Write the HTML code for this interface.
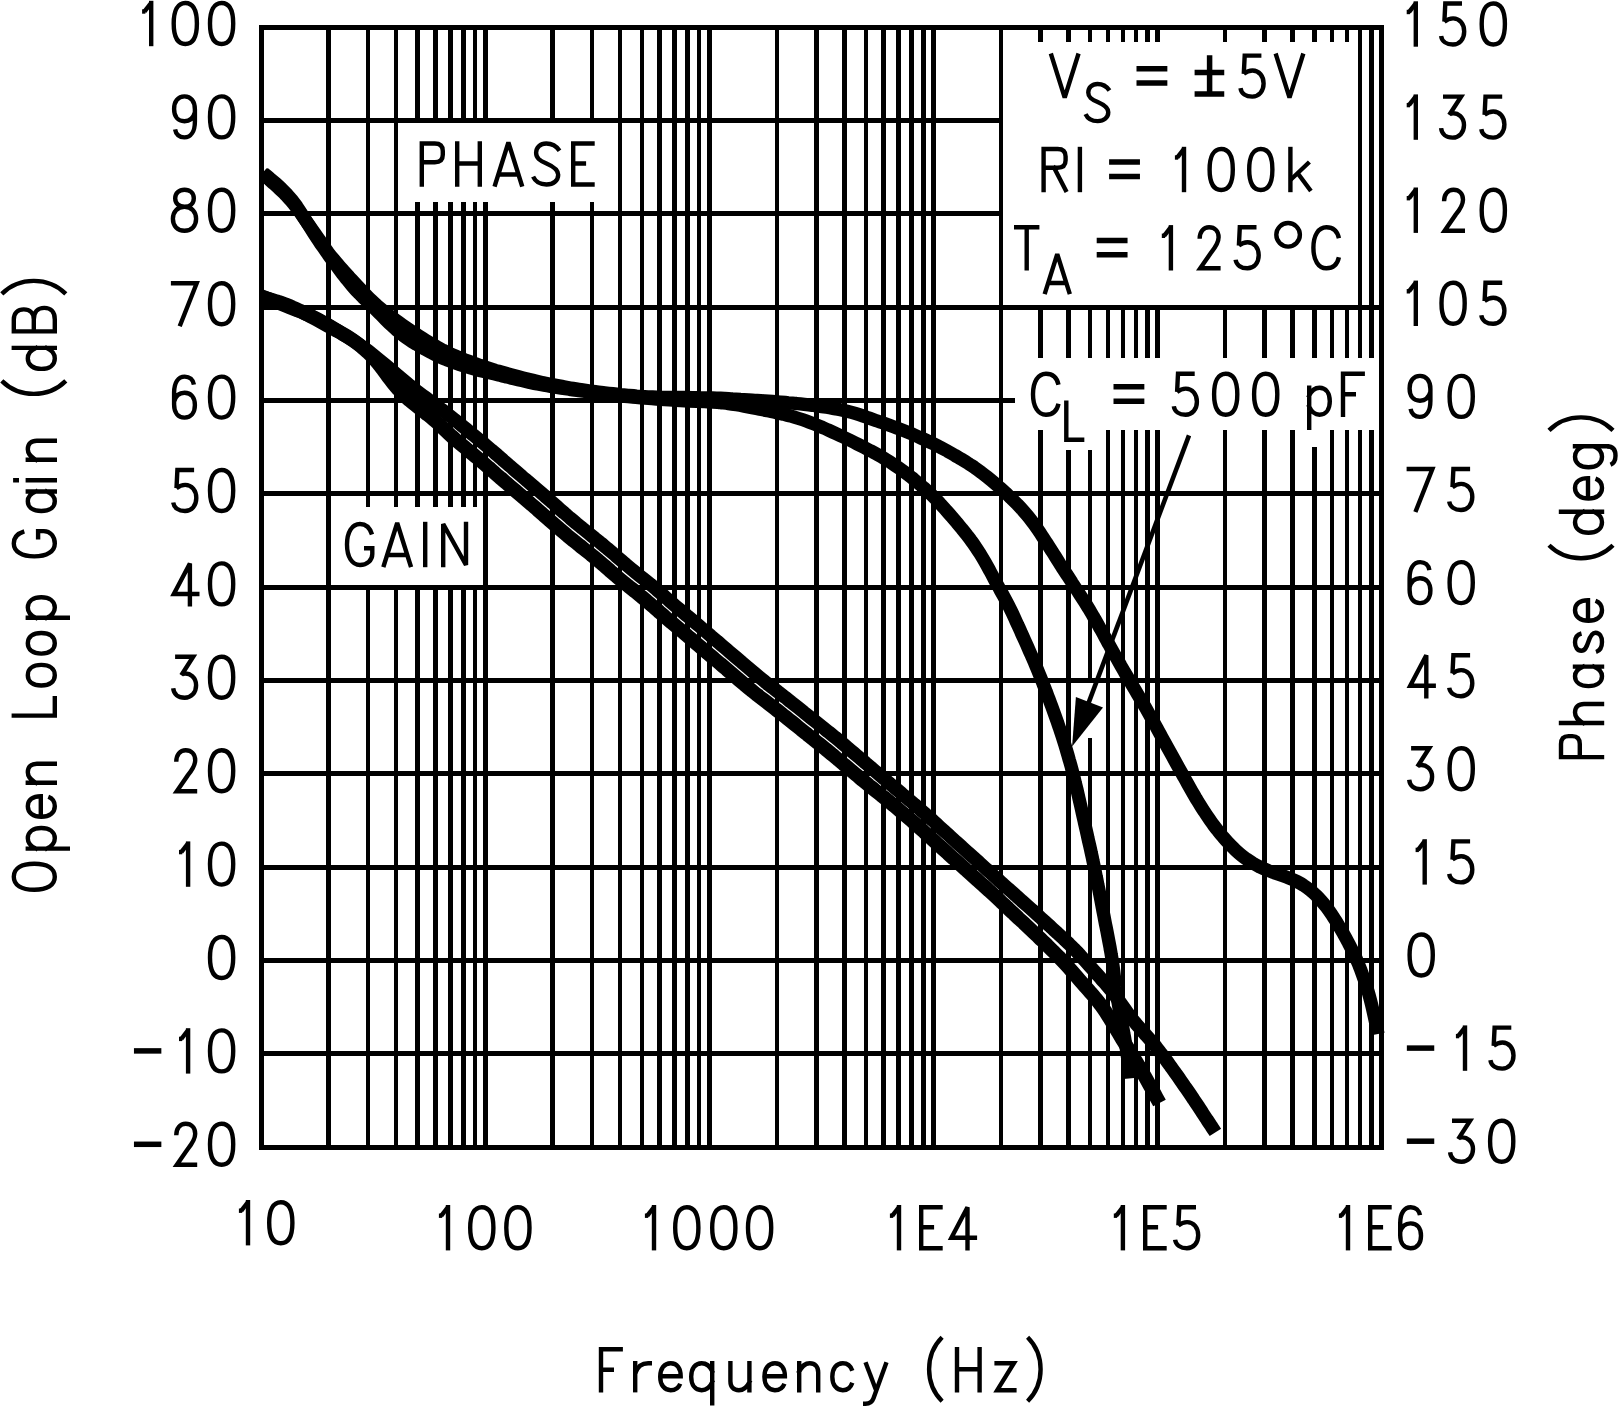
<!DOCTYPE html>
<html><head><meta charset="utf-8"><title>Open Loop Gain and Phase vs Frequency</title>
<style>
html,body{margin:0;padding:0;background:#fff;font-family:"Liberation Sans",sans-serif}
svg{display:block}
.t{fill:none;stroke:#000;stroke-width:4.4;stroke-linejoin:miter;stroke-miterlimit:2.6}
path.s{stroke-linecap:square}
path.b{stroke-linecap:butt}
</style></head><body>
<svg width="1619" height="1407" viewBox="0 0 1619 1407"><defs><g id="g30"><path class="b" d="M0,20.5C0,7.5 4,0 11.6,0C19.2,0 23.2,7.5 23.2,20.5C23.2,33.5 19.2,41 11.6,41C4,41 0,33.5 0,20.5Z"/></g><g id="g31"><path class="b" d="M-2.1,8.5L1.2,8.5"/><path class="b" d="M0.2,8.6L7,-0.2"/><path class="s" d="M7,0L7,41"/></g><g id="g32"><path class="b" d="M1.85,11.5C1.85,4.5 5.7,0 11.3,0C16.9,0 20.8,4 20.8,10C20.8,15.5 18,19.5 13.5,25L2.4,41L22.8,41"/></g><g id="g33"><path class="s" d="M4.1,0L20,0L9.3,16.6"/><path class="b" d="M9.6,17C17,15.3 22.9,21 22.9,28.4C22.9,36 18,41 11.5,41C5,41 0.6,37.5 0,31.5"/></g><g id="g34"><path class="s" d="M17.6,41L17.6,0L1.5,30.6L25,30.6"/></g><g id="g35"><path class="s" d="M18.7,0L4.2,0L3.4,16"/><path class="b" d="M3.2,18.2C6,16 9,14.9 12,14.9C18.6,14.9 23.1,20.5 23.1,28C23.1,35.5 18.6,41 11.8,41C5.5,41 0.8,38 0,32.5"/></g><g id="g36"><path class="b" d="M19.8,8C19,3 15.5,0 10.6,0C4,0 0,6 0,16L0,28C0,36 4,41 10.4,41C17,41 20.8,36 20.8,28.5C20.8,21 17,16.2 10.4,16.2C5,16.2 1.5,19.5 0,25"/></g><g id="g39"><path class="b" d="M1,33C1.8,38 5.3,41 10.2,41C16.8,41 20.8,35 20.8,25L20.8,13C20.8,5 16.8,0 10.4,0C3.8,0 0,5 0,12.5C0,20 3.8,24.8 10.4,24.8C15.8,24.8 19.3,21.5 20.8,16"/></g><g id="g37"><path class="s" d="M0,0L23.6,0L7.4,41"/></g><g id="g38"><path class="b" d="M11.6,17C6,17 2.3,13.5 2.3,8.5C2.3,3.5 6,0 11.6,0C17.2,0 20.9,3.5 20.9,8.5C20.9,13.5 17.2,17 11.6,17C4.5,17 0,22 0,29C0,36 4.5,41 11.6,41C18.7,41 23.2,36 23.2,29C23.2,22 18.7,17 11.6,17Z"/></g><g id="g2d"><path class="s" d="M0.6,20.5L22.5,20.5"/></g><g id="g3d"><path class="s" d="M0.55,13.1L25.9,13.1M0.55,27.5L25.9,27.5"/></g><g id="g2b2d"><path class="s" d="M12.8,2.4L12.8,33M0.55,16.9L24.7,16.9M0.55,38.3L24.7,38.3"/></g><g id="g646567"><path class="b" d="M0,7.5A11.8,11.8 0 1 0 23.6,7.5A11.8,11.8 0 1 0 0,7.5Z"/></g><g id="g28"><path class="b" d="M13,-12C4,-3 0,8 0,20C0,32 4,43 13,52"/></g><g id="g29"><path class="b" d="M0,-12C9,-3 13,8 13,20C13,32 9,43 0,52"/></g><g id="g41"><path class="s" d="M0,41L13.2,-1L26.4,41M4.7,31L21.7,31"/></g><g id="g42"><path class="s" d="M0,0L0,41L12,41C19.5,41 23.5,37 23.5,30.5C23.5,24 19.5,20 12,20L0,20M12,20C18.5,20 22,16 22,10C22,4 18.5,0 12,0L0,0"/></g><g id="g43"><path class="b" d="M25.5,11C24,4 19.5,0 13,0C5,0 0,8 0,20.5C0,33 5,41 13,41C19.5,41 24,37 25.5,30"/></g><g id="g45"><path class="s" d="M19.3,0L0,0L0,41L19.3,41M0,20L10.7,20"/></g><g id="g46"><path class="s" d="M19.7,0L0,0L0,41M0,20.5L10.8,20.5"/></g><g id="g47"><path class="b" d="M25,10.5C23,4 19,0 13,0C5,0 0,8 0,20.5C0,33 5,41 13,41C20,41 25.3,36.5 25.3,30L25.3,24.3L17,24.3"/></g><g id="g48"><path class="s" d="M0,0L0,41M22.6,0L22.6,41M0,20L22.6,20"/></g><g id="g49"><path class="s" d="M0,0L0,41"/></g><g id="g4c"><path class="s" d="M0,0L0,41L17.5,41"/></g><g id="g4e"><path class="s" d="M0,41L0,0L22.8,41L22.8,0"/></g><g id="g4f"><path class="b" d="M0,20.5C0,7.5 4.5,0 13,0C21.5,0 26,7.5 26,20.5C26,33.5 21.5,41 13,41C4.5,41 0,33.5 0,20.5Z"/></g><g id="g50"><path class="s" d="M0,41L0,0L13,0C18.5,0 21,2.8 21,7.5L21,11.3C21,16 18.5,18.8 13,18.8L0,18.8"/></g><g id="g52"><path class="s" d="M0,41L0,0L14,0C19.5,0 22,2.8 22,7.5L22,11.3C22,16 19.5,18.8 14,18.8L0,18.8M10.5,18.8L22,41"/></g><g id="g53"><path class="b" d="M25.8,7.2C22.5,2.3 18,0 12.6,0C6.6,0 2.4,3.8 2.4,9.3C2.4,14.5 5.8,17 12.8,20C19.8,23 24.5,26 24.5,31.3C24.5,37 19.8,41 12.8,41C6,41 1.8,38.5 -0.6,33.2"/></g><g id="g54"><path class="s" d="M0,0L21,0M10.5,0L10.5,41"/></g><g id="g56"><path class="s" d="M0,0L13.2,42L26.4,0"/></g><g id="g61"><path class="s" d="M19.5,14L19.5,41M19.5,22C17.4,17 14.4,14 9.8,14C3.6,14 0,19.5 0,27.5C0,35.5 3.6,41 9.8,41C14.4,41 17.4,38 19.5,33"/></g><g id="g64"><path class="s" d="M21,0L21,41M21,22C18.8,17 15.5,14 10.5,14C3.9,14 0,19.5 0,27.5C0,35.5 3.9,41 10.5,41C15.5,41 18.8,38 21.0,33"/></g><g id="g67"><path class="s" d="M21,14L21,46"/><path class="b" d="M21,22C18.8,17 15.5,14 10.5,14C3.9,14 0,19.5 0,27.5C0,35.5 3.9,41 10.5,41C15.5,41 18.8,38 21.0,33"/><path class="b" d="M21,46C21,52 17.5,54.5 11.5,54.5C7,54.5 4,53 2.5,49.5"/></g><g id="g71"><path class="s" d="M21,14L21,54M21,22C18.8,17 15.5,14 10.5,14C3.9,14 0,19.5 0,27.5C0,35.5 3.9,41 10.5,41C15.5,41 18.8,38 21.0,33"/></g><g id="g70"><path class="s" d="M0,14L0,54M0,22C2.2,17 5.4,14 10.3,14C16.8,14 20.6,19.5 20.6,27.5C20.6,35.5 16.8,41 10.3,41C5.4,41 2.2,38 0,33"/></g><g id="g63"><path class="b" d="M20,21.5C18.5,17 15,14 10.5,14C4,14 0,19.5 0,27.5C0,35.5 4,41 10.5,41C15,41 18.5,38 20,33.5"/></g><g id="g65"><path class="b" d="M0,27L20.5,27C20.5,19 17,14 10.5,14C4,14 0,19.5 0,27.5C0,35.5 4,41 10.5,41C15,41 18.5,38.5 20,34.5"/></g><g id="g68"><path class="s" d="M0,0L0,41M0,22C2.5,17 6,14 10.5,14C16,14 19,17.5 19,23L19,41"/></g><g id="g6e"><path class="s" d="M0,14L0,41M0,22C2.5,17 6,14 10.5,14C16,14 19,17.5 19,23L19,41"/></g><g id="g69"><path class="s" d="M0,14L0,41M0,1.5L0,3"/></g><g id="g6b"><path class="s" d="M0,0L0,41"/><path class="b" d="M19,13L0,31M7.5,24.5L20.5,42"/></g><g id="g6f"><path class="b" d="M0,27.5C0,19 4,14 10.3,14C16.6,14 20.6,19 20.6,27.5C20.6,36 16.6,41 10.3,41C4,41 0,36 0,27.5Z"/></g><g id="g72"><path class="s" d="M0,14L0,41"/><path class="b" d="M0,24C2,18 6,14 13,14L16.8,14"/></g><g id="g73"><path class="b" d="M18.5,20.5C17.5,16.5 14.5,14 9.8,14C4.8,14 1.3,16.5 1.3,20.3C1.3,24 4.5,25.5 10,27.3C15.5,29 19.3,30.7 19.3,34.5C19.3,38.5 15.5,41 10,41C4.8,41 1.3,39 0,35"/></g><g id="g75"><path class="s" d="M0,14L0,32C0,37.5 3,41 8.5,41C13,41 16.5,38 19,33M19,14L19,41"/></g><g id="g79"><path class="b" d="M0,13L10.6,41"/><path class="b" d="M21,13L8,49C6.8,52.5 4.5,54.5 0,54.5L-2.5,54.5"/></g><g id="g7a"><path class="s" d="M1,14L18.3,14L1.6,41L18.8,41"/></g></defs><g fill="#000" shape-rendering="crispEdges">
<rect x="326.00" y="27.30" width="5.00" height="1119.96"/>
<rect x="366.00" y="27.30" width="4.00" height="1119.96"/>
<rect x="394.00" y="27.30" width="4.00" height="1119.96"/>
<rect x="415.00" y="27.30" width="5.00" height="1119.96"/>
<rect x="433.00" y="27.30" width="5.00" height="1119.96"/>
<rect x="448.00" y="27.30" width="5.00" height="1119.96"/>
<rect x="461.00" y="27.30" width="5.00" height="1119.96"/>
<rect x="473.00" y="27.30" width="4.00" height="1119.96"/>
<rect x="483.00" y="27.30" width="5.00" height="1119.96"/>
<rect x="550.00" y="27.30" width="5.00" height="1119.96"/>
<rect x="590.00" y="27.30" width="4.00" height="1119.96"/>
<rect x="618.00" y="27.30" width="4.00" height="1119.96"/>
<rect x="640.00" y="27.30" width="4.00" height="1119.96"/>
<rect x="657.00" y="27.30" width="5.00" height="1119.96"/>
<rect x="672.00" y="27.30" width="5.00" height="1119.96"/>
<rect x="685.00" y="27.30" width="5.00" height="1119.96"/>
<rect x="697.00" y="27.30" width="4.00" height="1119.96"/>
<rect x="707.00" y="27.30" width="5.00" height="1119.96"/>
<rect x="775.00" y="27.30" width="4.00" height="1119.96"/>
<rect x="814.00" y="27.30" width="5.00" height="1119.96"/>
<rect x="842.00" y="27.30" width="5.00" height="1119.96"/>
<rect x="864.00" y="27.30" width="4.00" height="1119.96"/>
<rect x="881.00" y="27.30" width="5.00" height="1119.96"/>
<rect x="896.00" y="27.30" width="5.00" height="1119.96"/>
<rect x="909.00" y="27.30" width="5.00" height="1119.96"/>
<rect x="921.00" y="27.30" width="5.00" height="1119.96"/>
<rect x="931.00" y="27.30" width="5.00" height="1119.96"/>
<rect x="999.00" y="27.30" width="4.00" height="1119.96"/>
<rect x="1038.00" y="27.30" width="5.00" height="1119.96"/>
<rect x="1066.00" y="27.30" width="5.00" height="1119.96"/>
<rect x="1088.00" y="27.30" width="4.00" height="1119.96"/>
<rect x="1106.00" y="27.30" width="4.00" height="1119.96"/>
<rect x="1121.00" y="27.30" width="4.00" height="1119.96"/>
<rect x="1134.00" y="27.30" width="4.00" height="1119.96"/>
<rect x="1145.00" y="27.30" width="5.00" height="1119.96"/>
<rect x="1155.00" y="27.30" width="5.00" height="1119.96"/>
<rect x="1223.00" y="27.30" width="4.00" height="1119.96"/>
<rect x="1262.00" y="27.30" width="5.00" height="1119.96"/>
<rect x="1290.00" y="27.30" width="5.00" height="1119.96"/>
<rect x="1312.00" y="27.30" width="5.00" height="1119.96"/>
<rect x="1330.00" y="27.30" width="4.00" height="1119.96"/>
<rect x="1345.00" y="27.30" width="4.00" height="1119.96"/>
<rect x="1358.00" y="27.30" width="4.00" height="1119.96"/>
<rect x="1369.00" y="27.30" width="5.00" height="1119.96"/>
<rect x="261.10" y="118.00" width="1120.60" height="5.00"/>
<rect x="261.10" y="211.00" width="1120.60" height="5.00"/>
<rect x="261.10" y="305.00" width="1120.60" height="5.00"/>
<rect x="261.10" y="398.00" width="1120.60" height="5.00"/>
<rect x="261.10" y="491.00" width="1120.60" height="5.00"/>
<rect x="261.10" y="585.00" width="1120.60" height="5.00"/>
<rect x="261.10" y="678.00" width="1120.60" height="5.00"/>
<rect x="261.10" y="771.00" width="1120.60" height="5.00"/>
<rect x="261.10" y="865.00" width="1120.60" height="5.00"/>
<rect x="261.10" y="958.00" width="1120.60" height="5.00"/>
<rect x="261.10" y="1051.00" width="1120.60" height="5.00"/>
</g>
<g fill="#fff" shape-rendering="crispEdges">
<rect x="398.00" y="123.00" width="220.00" height="79.00"/>
<rect x="331.00" y="507.00" width="152.00" height="78.00"/>
<rect x="1003.00" y="42.00" width="378.70" height="263.00"/>
<rect x="1015.00" y="358.00" width="366.70" height="72.00"/>
<rect x="1045.00" y="420.00" width="60.00" height="30.00"/>
<rect x="1312.00" y="420.00" width="5.00" height="27.00"/>
<rect x="1088.00" y="683.00" width="4.00" height="55.00"/>
</g>
<g fill="#000" shape-rendering="crispEdges">
<rect x="1358.00" y="27.30" width="4.00" height="279.99"/><rect x="1369.00" y="27.30" width="5.00" height="279.99"/>
<rect x="259.00" y="25.00" width="1125.00" height="5.00"/><rect x="259.00" y="1145.00" width="1125.00" height="5.00"/><rect x="259.00" y="25.00" width="5.00" height="1125.00"/><rect x="1379.00" y="25.00" width="5.00" height="1125.00"/>
</g>
<g class="t">
<use href="#g30" x="210.00" y="3.00"/><use href="#g30" x="173.70" y="3.00"/><use href="#g31" x="144.20" y="3.00"/>
<use href="#g30" x="210.00" y="96.40"/><use href="#g39" x="174.10" y="96.40"/>
<use href="#g30" x="210.00" y="189.80"/><use href="#g38" x="172.90" y="189.80"/>
<use href="#g30" x="210.00" y="283.20"/><use href="#g37" x="173.10" y="283.20"/>
<use href="#g30" x="210.00" y="376.60"/><use href="#g36" x="174.10" y="376.60"/>
<use href="#g30" x="210.00" y="470.00"/><use href="#g35" x="173.20" y="470.00"/>
<use href="#g30" x="210.00" y="563.40"/><use href="#g34" x="172.30" y="563.40"/>
<use href="#g30" x="210.00" y="656.80"/><use href="#g33" x="173.20" y="656.80"/>
<use href="#g30" x="210.00" y="750.20"/><use href="#g32" x="174.40" y="750.20"/>
<use href="#g30" x="210.00" y="843.60"/><use href="#g31" x="181.10" y="843.60"/>
<use href="#g30" x="210.00" y="937.00"/>
<use href="#g30" x="210.00" y="1030.40"/><use href="#g31" x="181.10" y="1030.40"/><use href="#g2d" x="136.10" y="1030.40" style="stroke-width:5.5"/>
<use href="#g30" x="210.00" y="1123.80"/><use href="#g32" x="174.40" y="1123.80"/><use href="#g2d" x="136.10" y="1123.80" style="stroke-width:5.5"/>
<use href="#g31" x="1408.80" y="3.50"/><use href="#g35" x="1441.10" y="3.50"/><use href="#g30" x="1481.70" y="3.50"/>
<use href="#g31" x="1408.80" y="96.60"/><use href="#g33" x="1441.10" y="96.60"/><use href="#g35" x="1481.30" y="96.60"/>
<use href="#g31" x="1408.80" y="189.70"/><use href="#g32" x="1442.20" y="189.70"/><use href="#g30" x="1481.70" y="189.70"/>
<use href="#g31" x="1408.80" y="282.80"/><use href="#g30" x="1441.50" y="282.80"/><use href="#g35" x="1481.30" y="282.80"/>
<use href="#g39" x="1409.60" y="375.90"/><use href="#g30" x="1449.60" y="375.90"/>
<use href="#g37" x="1408.80" y="469.00"/><use href="#g35" x="1449.20" y="469.00"/>
<use href="#g36" x="1409.60" y="562.10"/><use href="#g30" x="1449.60" y="562.10"/>
<use href="#g34" x="1408.70" y="655.20"/><use href="#g35" x="1449.20" y="655.20"/>
<use href="#g33" x="1409.20" y="748.30"/><use href="#g30" x="1449.60" y="748.30"/>
<use href="#g31" x="1417.70" y="841.40"/><use href="#g35" x="1449.20" y="841.40"/>
<use href="#g30" x="1409.60" y="934.50"/>
<use href="#g2d" x="1409.00" y="1027.60" style="stroke-width:5.5"/><use href="#g31" x="1458.00" y="1027.60"/><use href="#g35" x="1490.40" y="1027.60"/>
<use href="#g2d" x="1409.00" y="1120.70" style="stroke-width:5.5"/><use href="#g33" x="1450.10" y="1120.70"/><use href="#g30" x="1490.10" y="1120.70"/>
<use href="#g31" x="241.00" y="1202.20"/><use href="#g30" x="269.20" y="1202.20"/>
<use href="#g31" x="441.00" y="1207.20"/><use href="#g30" x="470.20" y="1207.20"/><use href="#g30" x="506.30" y="1207.20"/>
<use href="#g31" x="647.00" y="1207.20"/><use href="#g30" x="675.20" y="1207.20"/><use href="#g30" x="712.20" y="1207.20"/><use href="#g30" x="748.00" y="1207.20"/>
<use href="#g31" x="892.00" y="1207.20"/><use href="#g45" x="921.20" y="1207.20"/><use href="#g34" x="949.90" y="1207.20"/>
<use href="#g31" x="1115.90" y="1207.20"/><use href="#g45" x="1145.20" y="1207.20"/><use href="#g35" x="1175.10" y="1207.20"/>
<use href="#g31" x="1341.00" y="1207.20"/><use href="#g45" x="1370.20" y="1207.20"/><use href="#g36" x="1400.20" y="1207.20"/>
<use href="#g46" x="601.00" y="1349.20"/><use href="#g72" x="635.20" y="1349.20"/><use href="#g65" x="660.20" y="1349.20"/><use href="#g71" x="691.20" y="1349.20"/><use href="#g75" x="730.40" y="1349.20"/><use href="#g65" x="764.40" y="1349.20"/><use href="#g6e" x="799.20" y="1349.20"/><use href="#g63" x="832.30" y="1349.20"/><use href="#g79" x="865.50" y="1349.20"/><use href="#g28" x="929.10" y="1349.20"/><use href="#g48" x="957.00" y="1349.20"/><use href="#g7a" x="995.60" y="1349.20"/><use href="#g29" x="1027.60" y="1349.20"/>
<use href="#g50" x="421.80" y="143.50"/><use href="#g48" x="457.20" y="143.50"/><use href="#g41" x="495.20" y="143.50"/><use href="#g53" x="533.70" y="143.50"/><use href="#g45" x="573.20" y="143.50"/>
<use href="#g47" x="347.00" y="524.00"/><use href="#g41" x="384.00" y="524.00"/><use href="#g49" x="425.20" y="524.00"/><use href="#g4e" x="443.20" y="524.00"/>
<use href="#g56" x="1051.50" y="55.60"/><use href="#g3d" x="1138.70" y="55.60" style="stroke-width:5.5"/><use href="#g2b2d" x="1196.80" y="55.60" style="stroke-width:5.5"/><use href="#g35" x="1240.50" y="55.60"/><use href="#g56" x="1276.30" y="55.60"/>
<use href="#g53" transform="translate(1086.10 84.00) scale(0.9050)" style="stroke-width:4.862"/>
<use href="#g52" x="1043.60" y="149.00"/><use href="#g49" x="1079.90" y="149.00"/><use href="#g3d" x="1111.30" y="149.00" style="stroke-width:5.5"/><use href="#g31" x="1177.00" y="149.00"/><use href="#g30" x="1209.60" y="149.00"/><use href="#g30" x="1249.20" y="149.00"/><use href="#g6b" x="1290.40" y="149.00"/>
<use href="#g54" x="1016.20" y="227.30"/><use href="#g3d" x="1098.90" y="227.30" style="stroke-width:5.5"/><use href="#g31" x="1163.90" y="227.30"/><use href="#g32" x="1197.80" y="227.30"/><use href="#g35" x="1235.60" y="227.30"/><use href="#g646567" x="1276.30" y="227.30"/><use href="#g43" x="1313.40" y="227.30"/>
<use href="#g41" transform="translate(1045.30 255.00) scale(0.9050)" style="stroke-width:4.862"/>
<use href="#g43" x="1033.00" y="373.70"/><use href="#g3d" x="1115.70" y="373.70" style="stroke-width:5.5"/><use href="#g35" x="1173.80" y="373.70"/><use href="#g30" x="1214.10" y="373.70"/><use href="#g30" x="1254.10" y="373.70"/><use href="#g70" x="1309.20" y="373.70"/><use href="#g46" x="1343.00" y="373.70"/>
<use href="#g4c" transform="translate(1066.30 402.60) scale(0.9050)" style="stroke-width:4.862"/>
</g>
<g class="t" transform="translate(57.00 891.90) rotate(-90)"><use href="#g4f" x="2.20" y="-43.20"/><use href="#g70" x="43.30" y="-43.20"/><use href="#g65" x="75.10" y="-43.20"/><use href="#g6e" x="109.20" y="-43.20"/><use href="#g4c" x="176.30" y="-43.20"/><use href="#g6f" x="206.40" y="-43.20"/><use href="#g6f" x="238.30" y="-43.20"/><use href="#g70" x="274.10" y="-43.20"/><use href="#g47" x="335.50" y="-43.20"/><use href="#g61" x="380.90" y="-43.20"/><use href="#g69" x="411.60" y="-43.20"/><use href="#g6e" x="432.10" y="-43.20"/><use href="#g28" x="498.00" y="-43.20"/><use href="#g64" x="523.00" y="-43.20"/><use href="#g42" x="560.50" y="-43.20"/><use href="#g29" x="598.00" y="-43.20"/></g>
<g class="t" transform="translate(1604.20 759.30) rotate(-90)"><use href="#g50" x="2.20" y="-43.20"/><use href="#g68" x="36.30" y="-43.20"/><use href="#g61" x="73.20" y="-43.20"/><use href="#g73" x="107.30" y="-43.20"/><use href="#g65" x="138.50" y="-43.20"/><use href="#g28" x="201.00" y="-43.20"/><use href="#g64" x="226.60" y="-43.20"/><use href="#g65" x="260.70" y="-43.20"/><use href="#g67" x="292.00" y="-43.20"/><use href="#g29" x="328.90" y="-43.20"/></g>
<clipPath id="cp"><rect x="262" y="0" width="1130" height="1407"/></clipPath>
<g fill="none" stroke="#000" stroke-linejoin="round" clip-path="url(#cp)">
<path stroke-width="13.3" d="M262.1,173.3C263.1,174.2 266.1,176.8 268.1,178.6C270.1,180.4 272.1,182.1 274.0,183.9C276.0,185.7 278.0,187.5 279.9,189.3C281.8,191.2 283.8,193.0 285.6,194.9C287.4,196.9 289.3,198.8 291.0,200.8C292.7,202.8 294.4,204.9 296.0,207.0C297.7,209.1 299.2,211.3 300.8,213.4C302.3,215.6 303.8,217.8 305.4,220.0C306.9,222.1 308.4,224.3 310.0,226.5C311.5,228.7 313.0,230.9 314.6,233.0C316.1,235.2 317.6,237.4 319.2,239.6C320.7,241.8 322.2,244.0 323.7,246.2C325.2,248.3 326.7,250.5 328.3,252.7C329.9,254.8 331.6,256.9 333.3,258.9C334.9,261.0 336.7,263.0 338.5,265.0C340.2,267.0 342.0,269.0 343.8,271.0C345.6,272.9 347.4,274.9 349.1,276.9C350.9,278.9 352.7,280.8 354.5,282.8C356.3,284.8 358.1,286.7 360.0,288.7C361.8,290.6 363.6,292.5 365.5,294.4C367.4,296.3 369.2,298.2 371.2,300.1C373.1,301.9 375.0,303.7 377.0,305.5C379.0,307.2 381.1,308.9 383.2,310.6C385.2,312.3 387.3,313.9 389.4,315.5C391.6,317.2 393.7,318.7 395.9,320.3C398.0,321.9 400.2,323.4 402.4,324.9C404.6,326.4 406.8,327.9 409.0,329.4C411.2,330.9 413.5,332.4 415.7,333.8C417.9,335.3 420.2,336.7 422.4,338.2C424.7,339.6 426.9,341.0 429.2,342.4C431.5,343.8 433.8,345.1 436.1,346.4C438.4,347.8 440.7,349.0 443.1,350.3C445.5,351.5 447.9,352.6 450.3,353.8C452.7,354.9 455.2,355.9 457.6,356.9C460.1,358.0 462.6,358.9 465.0,359.9C467.5,360.8 470.0,361.8 472.5,362.7C475.0,363.6 477.6,364.5 480.1,365.4C482.6,366.2 485.1,367.1 487.6,367.9C490.2,368.7 492.7,369.5 495.3,370.3C497.8,371.0 500.4,371.8 503.0,372.5C505.5,373.2 508.1,373.9 510.7,374.6C513.3,375.3 515.8,376.0 518.4,376.7C521.0,377.4 523.6,378.1 526.1,378.7C528.7,379.4 531.3,380.0 533.9,380.6C536.5,381.2 539.1,381.8 541.7,382.4C544.3,383.0 546.9,383.5 549.5,384.1C552.1,384.6 554.8,385.1 557.4,385.6C560.0,386.1 562.6,386.6 565.2,387.0C567.9,387.5 570.5,388.0 573.1,388.4C575.8,388.8 578.4,389.3 581.0,389.6C583.7,390.0 586.3,390.4 588.9,390.8C591.6,391.1 594.2,391.5 596.9,391.8C599.5,392.1 602.2,392.5 604.8,392.8C607.5,393.1 610.1,393.4 612.8,393.7C615.4,394.0 618.1,394.3 620.7,394.6C623.4,394.8 626.0,395.1 628.7,395.4C631.3,395.6 634.0,395.8 636.6,396.1C639.3,396.3 642.0,396.5 644.6,396.6C647.3,396.8 649.9,396.9 652.6,397.0C655.3,397.1 657.9,397.2 660.6,397.3C663.3,397.4 665.9,397.4 668.6,397.4C671.3,397.5 673.9,397.5 676.6,397.5C679.3,397.5 681.9,397.5 684.6,397.5C687.3,397.6 689.9,397.6 692.6,397.6C695.3,397.6 697.9,397.6 700.6,397.7C703.3,397.7 705.9,397.7 708.6,397.8C711.3,397.9 713.9,398.0 716.6,398.1C719.3,398.2 721.9,398.3 724.6,398.4C727.2,398.6 729.9,398.7 732.6,398.9C735.2,399.0 737.9,399.2 740.6,399.4C743.2,399.5 745.9,399.7 748.5,399.9C751.2,400.1 753.9,400.2 756.5,400.4C759.2,400.6 761.8,400.8 764.5,400.9C767.2,401.1 769.8,401.3 772.5,401.5C775.1,401.7 777.8,401.9 780.5,402.1C783.1,402.3 785.8,402.5 788.4,402.8C791.1,403.0 793.7,403.3 796.4,403.5C799.0,403.8 801.7,404.1 804.3,404.4C807.0,404.7 809.6,405.0 812.3,405.4C814.9,405.7 817.6,406.0 820.2,406.4C822.9,406.8 825.5,407.1 828.1,407.5C830.8,408.0 833.4,408.4 836.0,408.9C838.6,409.3 841.2,409.9 843.8,410.5C846.4,411.0 849.0,411.7 851.6,412.4C854.1,413.1 856.7,413.9 859.2,414.7C861.7,415.5 864.3,416.4 866.8,417.3C869.3,418.1 871.8,419.0 874.3,419.9C876.9,420.8 879.4,421.6 881.9,422.5C884.4,423.4 886.9,424.3 889.4,425.2C891.9,426.1 894.4,427.0 896.9,428.0C899.4,428.9 901.9,429.9 904.4,430.9C906.9,431.9 909.3,432.9 911.8,433.9C914.2,435.0 916.7,436.0 919.1,437.1C921.6,438.2 924.0,439.3 926.4,440.4C928.8,441.5 931.2,442.7 933.6,443.9C936.0,445.0 938.4,446.2 940.7,447.5C943.1,448.7 945.4,450.0 947.8,451.3C950.1,452.6 952.4,453.9 954.7,455.2C957.0,456.6 959.3,457.9 961.6,459.3C963.9,460.7 966.2,462.1 968.4,463.5C970.6,465.0 972.9,466.4 975.1,467.9C977.3,469.4 979.4,471.0 981.5,472.6C983.7,474.2 985.8,475.9 987.8,477.5C989.9,479.2 992.0,480.9 994.0,482.6C996.0,484.3 998.0,486.1 1000.0,487.8C1002.0,489.6 1004.0,491.4 1006.0,493.2C1007.9,495.0 1009.8,496.9 1011.7,498.7C1013.6,500.6 1015.5,502.5 1017.4,504.4C1019.2,506.3 1021.1,508.3 1022.8,510.2C1024.6,512.2 1026.3,514.2 1028.0,516.3C1029.7,518.4 1031.3,520.5 1032.9,522.6C1034.5,524.8 1036.0,526.9 1037.5,529.1C1039.0,531.3 1040.5,533.5 1042.0,535.8C1043.5,538.0 1044.9,540.2 1046.4,542.4C1047.8,544.7 1049.3,546.9 1050.7,549.2C1052.1,551.4 1053.5,553.7 1055.0,556.0C1056.4,558.2 1057.8,560.5 1059.2,562.7C1060.6,565.0 1062.1,567.2 1063.5,569.5C1064.9,571.7 1066.4,573.9 1067.9,576.2C1069.3,578.4 1070.8,580.6 1072.2,582.9C1073.7,585.1 1075.2,587.3 1076.6,589.6C1078.1,591.8 1079.5,594.0 1081.0,596.3C1082.4,598.5 1083.9,600.8 1085.3,603.0C1086.7,605.3 1088.1,607.6 1089.5,609.8C1090.8,612.1 1092.2,614.4 1093.5,616.7C1094.9,619.0 1096.2,621.3 1097.5,623.7C1098.8,626.0 1100.1,628.3 1101.4,630.6C1102.7,633.0 1104.0,635.3 1105.3,637.7C1106.5,640.0 1107.8,642.3 1109.1,644.7C1110.4,647.0 1111.7,649.4 1113.0,651.7C1114.3,654.0 1115.6,656.3 1116.9,658.6C1118.2,661.0 1119.5,663.3 1120.8,665.6C1122.2,667.9 1123.5,670.2 1124.8,672.5C1126.2,674.8 1127.5,677.1 1128.9,679.4C1130.2,681.7 1131.6,684.0 1132.9,686.3C1134.3,688.6 1135.7,690.9 1137.0,693.2C1138.4,695.5 1139.8,697.8 1141.1,700.1C1142.5,702.4 1143.8,704.7 1145.2,707.0C1146.5,709.3 1147.8,711.6 1149.1,713.9C1150.4,716.3 1151.7,718.6 1153.0,720.9C1154.3,723.3 1155.6,725.6 1156.8,727.9C1158.1,730.3 1159.4,732.6 1160.7,735.0C1161.9,737.3 1163.2,739.6 1164.5,742.0C1165.8,744.3 1167.1,746.7 1168.4,749.0C1169.7,751.3 1171.0,753.7 1172.3,756.0C1173.6,758.3 1174.8,760.6 1176.1,763.0C1177.4,765.3 1178.7,767.6 1180.0,770.0C1181.3,772.3 1182.6,774.6 1183.9,777.0C1185.2,779.3 1186.5,781.6 1187.8,784.0C1189.1,786.3 1190.4,788.6 1191.7,790.9C1193.0,793.2 1194.4,795.6 1195.7,797.9C1197.1,800.1 1198.4,802.4 1199.9,804.7C1201.3,807.0 1202.7,809.2 1204.2,811.4C1205.6,813.7 1207.1,815.9 1208.6,818.1C1210.1,820.3 1211.7,822.4 1213.2,824.6C1214.8,826.7 1216.4,828.8 1218.1,830.9C1219.7,833.0 1221.4,835.1 1223.2,837.1C1224.9,839.1 1226.7,841.1 1228.5,843.0C1230.3,845.0 1232.2,846.9 1234.1,848.7C1236.0,850.6 1238.0,852.4 1240.0,854.1C1242.0,855.8 1244.1,857.4 1246.3,858.9C1248.4,860.5 1250.6,861.9 1252.9,863.3C1255.2,864.6 1257.5,865.8 1259.9,867.0C1262.3,868.1 1264.8,869.2 1267.2,870.2C1269.7,871.2 1272.2,872.0 1274.7,872.9C1277.2,873.8 1279.8,874.6 1282.3,875.5C1284.8,876.4 1287.3,877.3 1289.7,878.3C1292.2,879.3 1294.6,880.3 1296.9,881.5C1299.3,882.7 1301.6,884.0 1303.8,885.5C1306.0,886.9 1308.2,888.5 1310.2,890.1C1312.3,891.8 1314.2,893.5 1316.1,895.4C1318.0,897.2 1319.8,899.2 1321.6,901.2C1323.3,903.1 1325.0,905.2 1326.6,907.3C1328.2,909.4 1329.7,911.6 1331.2,913.8C1332.7,916.0 1334.1,918.3 1335.6,920.5C1337.0,922.8 1338.3,925.1 1339.7,927.4C1341.1,929.6 1342.4,932.0 1343.7,934.3C1345.0,936.6 1346.3,938.9 1347.6,941.3C1348.8,943.6 1350.1,946.0 1351.3,948.4C1352.5,950.7 1353.7,953.1 1354.8,955.5C1355.9,957.9 1356.9,960.4 1358.0,962.9C1359.0,965.3 1359.9,967.8 1360.9,970.3C1361.8,972.8 1362.7,975.3 1363.6,977.8C1364.5,980.3 1365.4,982.8 1366.2,985.4C1367.0,987.9 1367.8,990.4 1368.5,993.0C1369.2,995.6 1369.9,998.1 1370.6,1000.7C1371.3,1003.3 1371.9,1005.9 1372.5,1008.5C1373.1,1011.2 1373.7,1013.8 1374.3,1016.5C1374.9,1019.3 1375.5,1022.1 1376.2,1025.0C1376.8,1027.9 1377.7,1032.5 1378.0,1034.0"/>
<path stroke-width="13.3" d="M263.6,173.3C264.6,174.1 267.8,176.6 269.8,178.3C271.9,180.0 273.9,181.7 275.9,183.5C277.9,185.3 279.8,187.1 281.7,188.9C283.6,190.8 285.5,192.7 287.3,194.6C289.1,196.6 290.8,198.6 292.5,200.6C294.2,202.7 295.7,204.9 297.2,207.0C298.7,209.2 300.2,211.5 301.6,213.7C303.0,215.9 304.4,218.2 305.8,220.5C307.2,222.8 308.6,225.0 310.0,227.3C311.4,229.6 312.8,231.8 314.3,234.1C315.7,236.3 317.2,238.5 318.7,240.7C320.1,243.0 321.6,245.2 323.2,247.3C324.7,249.5 326.2,251.7 327.8,253.9C329.3,256.1 330.9,258.2 332.5,260.4C334.0,262.5 335.6,264.7 337.2,266.8C338.8,268.9 340.4,271.1 342.0,273.2C343.7,275.3 345.3,277.4 347.0,279.5C348.6,281.6 350.3,283.6 352.0,285.6C353.8,287.7 355.5,289.7 357.3,291.6C359.2,293.5 361.0,295.4 362.9,297.3C364.8,299.1 366.8,300.9 368.7,302.8C370.6,304.6 372.6,306.4 374.4,308.3C376.3,310.2 378.2,312.1 380.1,314.0C381.9,315.9 383.8,317.8 385.7,319.7C387.6,321.6 389.4,323.4 391.4,325.3C393.3,327.1 395.3,328.9 397.3,330.6C399.3,332.4 401.4,334.0 403.5,335.6C405.6,337.2 407.8,338.7 410.0,340.2C412.2,341.7 414.5,343.1 416.7,344.5C419.0,345.9 421.3,347.2 423.6,348.5C426.0,349.8 428.3,351.1 430.7,352.3C433.0,353.6 435.4,354.8 437.8,355.9C440.2,357.0 442.6,358.1 445.1,359.2C447.6,360.2 450.0,361.2 452.5,362.1C455.0,363.0 457.5,363.9 460.1,364.8C462.6,365.6 465.1,366.4 467.7,367.2C470.2,367.9 472.8,368.6 475.4,369.3C477.9,370.0 480.5,370.7 483.1,371.3C485.7,371.9 488.3,372.5 490.9,373.1C493.5,373.8 496.1,374.4 498.7,375.0C501.3,375.6 503.8,376.3 506.4,376.9C509.0,377.6 511.6,378.2 514.2,378.8C516.8,379.4 519.4,380.0 522.0,380.6C524.6,381.2 527.2,381.8 529.8,382.4C532.4,382.9 535.0,383.4 537.6,384.0C540.3,384.5 542.9,385.0 545.5,385.5C548.1,385.9 550.8,386.4 553.4,386.8C556.0,387.3 558.6,387.7 561.3,388.1C563.9,388.5 566.6,388.9 569.2,389.3C571.8,389.6 574.5,390.0 577.1,390.4C579.8,390.8 582.4,391.1 585.0,391.5C587.7,391.9 590.3,392.3 593.0,392.6C595.6,393.0 598.2,393.4 600.9,393.7C603.5,394.1 606.2,394.4 608.8,394.7C611.5,395.1 614.1,395.4 616.8,395.6C619.4,395.9 622.1,396.2 624.7,396.4C627.4,396.7 630.0,396.9 632.7,397.1C635.3,397.4 638.0,397.6 640.7,397.8C643.3,398.0 646.0,398.2 648.6,398.4C651.3,398.7 653.9,398.9 656.6,399.1C659.3,399.3 661.9,399.5 664.6,399.7C667.2,399.9 669.9,400.1 672.6,400.2C675.2,400.4 677.9,400.5 680.5,400.6C683.2,400.7 685.9,400.9 688.5,401.0C691.2,401.1 693.9,401.2 696.5,401.3C699.2,401.4 701.9,401.5 704.5,401.6C707.2,401.7 709.8,401.9 712.5,402.1C715.2,402.2 717.8,402.5 720.5,402.7C723.1,403.0 725.8,403.2 728.4,403.6C731.1,403.9 733.7,404.3 736.3,404.7C738.9,405.1 741.6,405.6 744.2,406.1C746.8,406.6 749.4,407.1 752.0,407.6C754.7,408.1 757.3,408.6 759.9,409.2C762.5,409.7 765.1,410.2 767.7,410.8C770.3,411.3 772.9,411.9 775.6,412.4C778.2,413.0 780.8,413.6 783.3,414.2C785.9,414.9 788.5,415.5 791.1,416.2C793.7,416.9 796.2,417.7 798.7,418.5C801.3,419.3 803.8,420.1 806.3,421.0C808.8,421.9 811.3,422.9 813.8,423.9C816.3,424.9 818.7,425.9 821.2,426.9C823.6,428.0 826.1,429.0 828.5,430.1C830.9,431.2 833.3,432.3 835.8,433.5C838.2,434.6 840.6,435.7 843.0,436.9C845.4,438.1 847.8,439.2 850.2,440.4C852.6,441.6 855.0,442.8 857.3,444.0C859.7,445.2 862.1,446.4 864.5,447.6C866.8,448.8 869.2,450.1 871.6,451.3C873.9,452.6 876.2,453.8 878.6,455.1C880.9,456.4 883.2,457.8 885.5,459.2C887.8,460.5 890.0,461.9 892.2,463.4C894.5,464.9 896.7,466.4 898.9,467.9C901.0,469.4 903.2,471.0 905.3,472.6C907.4,474.2 909.5,475.9 911.6,477.5C913.7,479.2 915.7,480.9 917.8,482.6C919.8,484.3 921.8,486.1 923.8,487.8C925.8,489.6 927.8,491.4 929.8,493.2C931.7,495.0 933.6,496.9 935.5,498.8C937.3,500.7 939.2,502.6 941.0,504.6C942.8,506.5 944.5,508.5 946.3,510.5C948.1,512.5 949.8,514.5 951.6,516.5C953.3,518.5 955.1,520.5 956.8,522.6C958.5,524.6 960.2,526.7 961.9,528.7C963.6,530.8 965.3,532.9 966.9,535.0C968.5,537.1 970.2,539.2 971.7,541.4C973.3,543.5 974.8,545.7 976.3,547.9C977.8,550.1 979.2,552.4 980.6,554.6C982.0,556.9 983.4,559.2 984.7,561.5C986.0,563.8 987.3,566.1 988.6,568.5C989.9,570.8 991.1,573.2 992.4,575.5C993.6,577.9 994.9,580.2 996.1,582.6C997.4,584.9 998.7,587.2 1000.0,589.6C1001.3,591.9 1002.6,594.2 1003.9,596.6C1005.1,598.9 1006.4,601.3 1007.6,603.6C1008.9,606.0 1010.0,608.4 1011.2,610.8C1012.4,613.2 1013.5,615.6 1014.6,618.0C1015.7,620.4 1016.8,622.9 1017.9,625.3C1019.1,627.7 1020.1,630.1 1021.2,632.6C1022.3,635.0 1023.4,637.4 1024.5,639.9C1025.6,642.3 1026.7,644.7 1027.8,647.2C1028.8,649.6 1029.9,652.1 1031.0,654.5C1032.1,656.9 1033.1,659.4 1034.2,661.8C1035.2,664.3 1036.2,666.8 1037.3,669.2C1038.3,671.7 1039.3,674.2 1040.3,676.6C1041.3,679.1 1042.3,681.6 1043.2,684.1C1044.2,686.5 1045.2,689.0 1046.1,691.5C1047.1,694.0 1048.0,696.5 1049.0,699.0C1049.9,701.5 1050.8,704.0 1051.8,706.5C1052.7,709.0 1053.6,711.5 1054.5,714.0C1055.4,716.5 1056.3,719.0 1057.2,721.5C1058.1,724.1 1058.9,726.6 1059.8,729.1C1060.6,731.6 1061.5,734.2 1062.3,736.7C1063.1,739.2 1063.9,741.8 1064.7,744.3C1065.5,746.9 1066.2,749.4 1067.0,752.0C1067.8,754.5 1068.5,757.1 1069.2,759.7C1070.0,762.2 1070.7,764.8 1071.4,767.4C1072.1,769.9 1072.7,772.5 1073.4,775.1C1074.1,777.7 1074.7,780.3 1075.3,782.9C1076.0,785.5 1076.6,788.1 1077.2,790.6C1077.8,793.2 1078.4,795.8 1079.0,798.4C1079.6,801.0 1080.2,803.6 1080.8,806.2C1081.4,808.8 1082.0,811.4 1082.5,814.0C1083.1,816.7 1083.7,819.3 1084.3,821.9C1084.9,824.5 1085.5,827.1 1086.1,829.7C1086.7,832.3 1087.3,834.9 1087.8,837.5C1088.4,840.1 1089.0,842.7 1089.6,845.3C1090.2,847.9 1090.8,850.5 1091.3,853.1C1091.9,855.7 1092.5,858.3 1093.0,860.9C1093.6,863.5 1094.1,866.1 1094.6,868.7C1095.2,871.3 1095.7,873.9 1096.2,876.6C1096.8,879.2 1097.3,881.8 1097.8,884.4C1098.4,887.0 1098.9,889.6 1099.4,892.2C1099.9,894.9 1100.4,897.5 1100.9,900.1C1101.4,902.7 1101.9,905.3 1102.4,908.0C1102.9,910.6 1103.4,913.2 1103.9,915.8C1104.4,918.4 1104.9,921.1 1105.4,923.7C1106.0,926.3 1106.5,928.9 1107.0,931.5C1107.5,934.1 1108.0,936.8 1108.5,939.4C1109.0,942.0 1109.5,944.6 1110.0,947.2C1110.4,949.9 1110.9,952.5 1111.3,955.1C1111.8,957.7 1112.2,960.4 1112.6,963.0C1113.0,965.7 1113.3,968.3 1113.7,970.9C1114.0,973.6 1114.3,976.2 1114.7,978.9C1115.0,981.5 1115.4,984.2 1115.7,986.8C1116.1,989.4 1116.4,992.1 1116.8,994.7C1117.2,997.4 1117.6,1000.0 1118.1,1002.6C1118.5,1005.2 1119.0,1007.9 1119.5,1010.5C1120.0,1013.1 1120.5,1015.7 1121.0,1018.3C1121.5,1021.0 1122.0,1023.6 1122.5,1026.2C1123.0,1028.8 1123.5,1031.4 1123.9,1034.1C1124.4,1036.7 1124.9,1039.3 1125.3,1042.0C1125.7,1044.6 1126.1,1047.2 1126.5,1049.9C1126.9,1052.5 1127.2,1055.2 1127.6,1057.7C1127.9,1060.3 1128.3,1062.9 1128.6,1065.3C1128.9,1067.7 1129.2,1070.0 1129.4,1072.2C1129.7,1074.3 1130.1,1077.3 1130.2,1078.3"/>
<path stroke-width="13.6" d="M260.6,295.7C261.8,296.2 265.5,297.7 268.0,298.7C270.5,299.7 272.9,300.7 275.4,301.7C277.9,302.7 280.3,303.7 282.8,304.7C285.3,305.7 287.8,306.7 290.2,307.7C292.7,308.7 295.2,309.7 297.7,310.7C300.2,311.6 302.6,312.6 305.1,313.6C307.6,314.6 310.0,315.6 312.4,316.6C314.9,317.7 317.2,318.9 319.6,320.1C321.9,321.3 324.2,322.7 326.5,324.0C328.8,325.3 331.1,326.7 333.4,328.1C335.6,329.5 337.9,330.9 340.2,332.3C342.4,333.7 344.7,335.1 346.9,336.5C349.2,338.0 351.4,339.4 353.7,340.8C355.9,342.3 358.1,343.8 360.3,345.3C362.5,346.8 364.6,348.4 366.8,350.0C368.9,351.6 371.0,353.3 373.1,354.9C375.1,356.6 377.2,358.3 379.3,360.0C381.3,361.6 383.4,363.3 385.4,365.0C387.5,366.8 389.5,368.5 391.6,370.2C393.6,371.9 395.6,373.6 397.7,375.4C399.7,377.1 401.7,378.8 403.7,380.5C405.8,382.3 407.8,384.0 409.9,385.6C412.0,387.3 414.1,389.0 416.2,390.6C418.3,392.2 420.4,393.8 422.6,395.4C424.7,397.0 426.9,398.6 429.0,400.2C431.1,401.8 433.3,403.3 435.5,404.9C437.6,406.5 439.7,408.1 441.9,409.7C444.0,411.3 446.1,412.9 448.2,414.6C450.3,416.2 452.4,417.9 454.4,419.5C456.5,421.2 458.6,422.9 460.6,424.6C462.7,426.3 464.8,427.9 466.9,429.6C468.9,431.3 471.0,433.0 473.0,434.7C475.1,436.4 477.1,438.1 479.2,439.8C481.2,441.5 483.3,443.2 485.3,444.9C487.4,446.7 489.4,448.4 491.4,450.1C493.5,451.8 495.5,453.6 497.5,455.3C499.5,457.1 501.5,458.8 503.5,460.6C505.5,462.3 507.6,464.1 509.6,465.8C511.6,467.6 513.6,469.3 515.6,471.0C517.7,472.8 519.7,474.5 521.7,476.2C523.7,478.0 525.8,479.7 527.8,481.4C529.8,483.2 531.8,484.9 533.9,486.6C535.9,488.4 537.9,490.1 540.0,491.8C542.0,493.6 544.0,495.3 546.0,497.1C548.0,498.8 550.0,500.6 552.0,502.3C554.0,504.1 556.0,505.8 558.0,507.6C560.0,509.4 562.0,511.1 564.1,512.9C566.1,514.6 568.1,516.4 570.1,518.1C572.2,519.8 574.2,521.5 576.2,523.2C578.3,524.9 580.4,526.6 582.4,528.3C584.5,530.0 586.6,531.7 588.6,533.3C590.7,535.0 592.8,536.7 594.9,538.4C597.0,540.0 599.0,541.7 601.1,543.4C603.2,545.1 605.2,546.8 607.3,548.5C609.3,550.2 611.3,551.9 613.4,553.7C615.4,555.4 617.4,557.2 619.4,558.9C621.4,560.6 623.4,562.4 625.5,564.1C627.5,565.8 629.5,567.5 631.6,569.2C633.7,570.9 635.7,572.6 637.8,574.3C639.9,575.9 642.0,577.6 644.1,579.3C646.1,580.9 648.2,582.6 650.3,584.3C652.3,586.0 654.4,587.7 656.4,589.4C658.4,591.2 660.5,592.9 662.5,594.7C664.5,596.4 666.5,598.2 668.5,599.9C670.5,601.7 672.5,603.4 674.5,605.2C676.6,606.9 678.6,608.6 680.6,610.3C682.7,612.1 684.7,613.8 686.7,615.5C688.8,617.2 690.8,618.9 692.9,620.6C694.9,622.4 696.9,624.1 699.0,625.8C701.0,627.6 703.0,629.3 705.0,631.0C707.1,632.7 709.1,634.5 711.1,636.2C713.2,637.9 715.2,639.7 717.2,641.4C719.3,643.1 721.3,644.9 723.3,646.6C725.3,648.3 727.4,650.1 729.4,651.8C731.4,653.5 733.4,655.2 735.5,657.0C737.5,658.7 739.5,660.4 741.6,662.2C743.6,663.9 745.6,665.6 747.7,667.4C749.7,669.1 751.7,670.8 753.7,672.5C755.8,674.3 757.8,676.0 759.9,677.7C762.0,679.3 764.0,681.0 766.1,682.7C768.2,684.3 770.3,686.0 772.4,687.6C774.5,689.2 776.7,690.8 778.8,692.5C780.9,694.1 783.0,695.7 785.1,697.3C787.2,699.0 789.3,700.6 791.4,702.3C793.5,703.9 795.6,705.6 797.7,707.3C799.7,708.9 801.8,710.6 803.9,712.3C806.0,713.9 808.1,715.6 810.1,717.3C812.2,718.9 814.3,720.6 816.4,722.3C818.5,724.0 820.5,725.6 822.6,727.3C824.7,729.0 826.8,730.6 828.9,732.3C830.9,734.0 833.0,735.7 835.1,737.3C837.1,739.0 839.2,740.7 841.2,742.4C843.3,744.1 845.3,745.8 847.4,747.6C849.4,749.3 851.5,751.0 853.5,752.7C855.5,754.4 857.6,756.2 859.6,757.9C861.6,759.6 863.7,761.3 865.7,763.1C867.7,764.8 869.8,766.5 871.8,768.2C873.8,770.0 875.8,771.7 877.9,773.4C879.9,775.2 881.9,776.9 884.0,778.6C886.0,780.3 888.0,782.1 890.1,783.8C892.1,785.5 894.1,787.2 896.2,789.0C898.2,790.7 900.3,792.4 902.3,794.1C904.3,795.8 906.4,797.5 908.4,799.3C910.4,801.0 912.5,802.7 914.5,804.5C916.5,806.2 918.5,808.0 920.5,809.7C922.5,811.5 924.5,813.2 926.5,815.0C928.5,816.8 930.5,818.6 932.5,820.3C934.5,822.1 936.4,823.9 938.4,825.7C940.4,827.5 942.3,829.3 944.3,831.1C946.3,832.9 948.2,834.7 950.2,836.5C952.2,838.3 954.2,840.1 956.1,841.9C958.1,843.7 960.1,845.5 962.1,847.2C964.1,849.0 966.1,850.8 968.0,852.6C970.0,854.4 972.0,856.2 974.0,857.9C976.0,859.7 977.9,861.5 979.9,863.3C981.9,865.1 983.9,866.9 985.9,868.7C987.8,870.5 989.8,872.2 991.8,874.0C993.8,875.8 995.8,877.6 997.7,879.4C999.7,881.2 1001.7,882.9 1003.7,884.7C1005.7,886.5 1007.7,888.3 1009.7,890.0C1011.7,891.8 1013.7,893.6 1015.7,895.4C1017.7,897.1 1019.6,898.9 1021.6,900.7C1023.6,902.4 1025.6,904.2 1027.6,906.0C1029.6,907.8 1031.6,909.6 1033.6,911.3C1035.5,913.1 1037.5,914.9 1039.5,916.7C1041.5,918.5 1043.4,920.3 1045.4,922.1C1047.4,923.9 1049.3,925.7 1051.3,927.5C1053.3,929.3 1055.2,931.1 1057.2,932.9C1059.1,934.7 1061.1,936.5 1063.1,938.3C1065.0,940.2 1067.0,942.0 1068.9,943.8C1070.8,945.7 1072.7,947.5 1074.6,949.4C1076.4,951.3 1078.3,953.3 1080.1,955.2C1081.9,957.2 1083.7,959.2 1085.5,961.2C1087.2,963.1 1089.0,965.1 1090.8,967.1C1092.5,969.1 1094.3,971.1 1096.1,973.1C1097.9,975.1 1099.6,977.1 1101.4,979.1C1103.2,981.1 1104.9,983.1 1106.7,985.1C1108.4,987.1 1110.1,989.2 1111.8,991.2C1113.4,993.3 1115.1,995.4 1116.6,997.6C1118.2,999.7 1119.8,1001.9 1121.3,1004.1C1122.8,1006.2 1124.3,1008.4 1125.9,1010.6C1127.4,1012.8 1129.0,1014.9 1130.6,1017.0C1132.2,1019.1 1133.9,1021.2 1135.6,1023.2C1137.3,1025.3 1139.1,1027.3 1140.9,1029.3C1142.6,1031.3 1144.4,1033.3 1146.1,1035.3C1147.9,1037.3 1149.7,1039.3 1151.4,1041.3C1153.1,1043.4 1154.8,1045.4 1156.5,1047.5C1158.1,1049.6 1159.8,1051.7 1161.4,1053.8C1163.0,1055.9 1164.6,1058.1 1166.2,1060.2C1167.7,1062.4 1169.3,1064.5 1170.9,1066.7C1172.4,1068.8 1174.0,1071.0 1175.5,1073.2C1177.1,1075.3 1178.6,1077.5 1180.1,1079.7C1181.7,1081.9 1183.2,1084.1 1184.7,1086.3C1186.3,1088.4 1187.8,1090.6 1189.3,1092.8C1190.8,1095.0 1192.3,1097.3 1193.7,1099.5C1195.2,1101.7 1196.7,1103.9 1198.2,1106.1C1199.6,1108.4 1201.1,1110.6 1202.5,1112.8C1204.0,1115.1 1205.4,1117.3 1206.9,1119.5C1208.3,1121.7 1209.7,1123.8 1211.2,1126.0C1212.6,1128.2 1214.7,1131.3 1215.4,1132.4"/>
<path stroke-width="14.2" d="M262.3,297.3C263.6,297.7 267.4,298.7 270.0,299.4C272.5,300.2 275.1,300.9 277.6,301.8C280.1,302.6 282.6,303.5 285.1,304.4C287.6,305.4 290.1,306.4 292.5,307.5C294.9,308.5 297.4,309.6 299.8,310.8C302.2,311.9 304.6,313.1 307.0,314.3C309.3,315.5 311.7,316.8 314.0,318.0C316.4,319.3 318.7,320.6 321.0,321.9C323.3,323.2 325.6,324.5 328.0,325.8C330.3,327.1 332.7,328.3 335.0,329.6C337.3,330.9 339.7,332.1 342.0,333.5C344.3,334.8 346.6,336.1 348.8,337.5C351.1,339.0 353.3,340.5 355.4,342.0C357.6,343.6 359.7,345.2 361.7,346.9C363.8,348.6 365.8,350.3 367.7,352.2C369.6,354.0 371.5,355.9 373.3,357.8C375.1,359.8 376.8,361.8 378.5,363.9C380.2,365.9 381.8,368.1 383.4,370.2C385.0,372.3 386.5,374.5 388.1,376.6C389.7,378.7 391.3,380.9 393.0,383.0C394.6,385.0 396.3,387.1 398.1,389.0C399.9,391.0 401.7,392.9 403.6,394.8C405.5,396.6 407.5,398.4 409.5,400.2C411.5,401.9 413.6,403.6 415.7,405.2C417.7,406.9 419.9,408.5 422.0,410.1C424.1,411.8 426.2,413.4 428.3,415.1C430.3,416.7 432.4,418.4 434.4,420.2C436.4,421.9 438.4,423.7 440.3,425.5C442.2,427.4 444.1,429.2 446.1,431.0C448.0,432.9 449.9,434.7 451.9,436.5C453.9,438.2 455.9,440.0 457.9,441.7C460.0,443.4 462.0,445.1 464.1,446.8C466.1,448.6 468.1,450.3 470.2,452.0C472.2,453.7 474.3,455.4 476.3,457.1C478.4,458.8 480.4,460.5 482.4,462.3C484.5,464.0 486.5,465.7 488.5,467.5C490.5,469.2 492.5,471.0 494.5,472.7C496.5,474.5 498.5,476.2 500.6,478.0C502.6,479.7 504.6,481.5 506.6,483.2C508.6,484.9 510.7,486.7 512.7,488.4C514.7,490.1 516.8,491.9 518.8,493.6C520.8,495.3 522.8,497.1 524.9,498.8C526.9,500.5 528.9,502.3 530.9,504.0C533.0,505.7 535.0,507.5 537.0,509.2C539.0,511.0 541.0,512.7 543.0,514.5C545.0,516.3 547.0,518.0 549.0,519.8C551.0,521.5 553.0,523.3 555.0,525.0C557.1,526.8 559.1,528.5 561.1,530.3C563.2,532.0 565.2,533.7 567.2,535.4C569.3,537.1 571.4,538.8 573.4,540.5C575.5,542.2 577.6,543.8 579.7,545.5C581.7,547.2 583.8,548.8 585.9,550.5C588.0,552.2 590.1,553.8 592.1,555.5C594.2,557.2 596.2,558.9 598.3,560.6C600.3,562.3 602.3,564.1 604.4,565.8C606.4,567.6 608.4,569.3 610.4,571.1C612.4,572.8 614.4,574.6 616.5,576.3C618.5,578.0 620.5,579.7 622.6,581.4C624.7,583.1 626.8,584.7 628.8,586.4C630.9,588.1 633.0,589.7 635.1,591.4C637.1,593.1 639.2,594.8 641.3,596.5C643.3,598.2 645.4,599.9 647.4,601.6C649.4,603.3 651.4,605.1 653.5,606.8C655.5,608.6 657.5,610.3 659.5,612.1C661.5,613.8 663.5,615.6 665.5,617.3C667.6,619.1 669.6,620.8 671.6,622.5C673.7,624.2 675.7,625.9 677.7,627.6C679.8,629.4 681.8,631.1 683.9,632.8C685.9,634.5 687.9,636.3 690.0,638.0C692.0,639.7 694.0,641.4 696.0,643.2C698.1,644.9 700.1,646.6 702.1,648.4C704.2,650.1 706.2,651.8 708.2,653.6C710.2,655.3 712.3,657.0 714.3,658.8C716.3,660.5 718.4,662.2 720.4,663.9C722.4,665.7 724.4,667.4 726.5,669.1C728.5,670.9 730.5,672.6 732.6,674.3C734.6,676.1 736.6,677.8 738.6,679.5C740.7,681.3 742.7,683.0 744.7,684.7C746.8,686.4 748.8,688.1 750.9,689.8C753.0,691.5 755.0,693.2 757.1,694.8C759.2,696.5 761.3,698.1 763.4,699.7C765.6,701.4 767.7,703.0 769.8,704.6C771.9,706.2 774.0,707.8 776.1,709.5C778.2,711.1 780.3,712.8 782.4,714.4C784.5,716.1 786.6,717.7 788.7,719.4C790.8,721.1 792.8,722.7 794.9,724.4C797.0,726.1 799.1,727.7 801.1,729.4C803.2,731.1 805.3,732.8 807.4,734.4C809.5,736.1 811.5,737.8 813.6,739.4C815.7,741.1 817.8,742.8 819.9,744.4C821.9,746.1 824.0,747.8 826.1,749.5C828.1,751.2 830.2,752.9 832.2,754.6C834.3,756.3 836.3,758.0 838.4,759.7C840.4,761.4 842.4,763.2 844.5,764.9C846.5,766.6 848.5,768.3 850.6,770.1C852.6,771.8 854.7,773.5 856.7,775.2C858.7,776.9 860.8,778.6 862.8,780.3C864.9,782.0 867.0,783.7 869.0,785.4C871.1,787.1 873.2,788.7 875.3,790.4C877.4,792.1 879.5,793.7 881.5,795.4C883.6,797.1 885.7,798.7 887.8,800.4C889.8,802.1 891.9,803.8 893.9,805.5C896.0,807.2 898.0,808.9 900.0,810.7C902.1,812.4 904.1,814.1 906.1,815.9C908.1,817.6 910.1,819.4 912.2,821.1C914.2,822.9 916.2,824.6 918.1,826.4C920.1,828.2 922.1,830.0 924.1,831.8C926.1,833.5 928.0,835.3 930.0,837.1C932.0,838.9 933.9,840.8 935.9,842.5C937.9,844.3 939.8,846.1 941.8,847.9C943.8,849.7 945.8,851.5 947.8,853.3C949.7,855.1 951.7,856.9 953.7,858.7C955.7,860.4 957.7,862.2 959.6,864.0C961.6,865.8 963.6,867.6 965.6,869.4C967.6,871.1 969.5,872.9 971.5,874.7C973.5,876.5 975.5,878.3 977.5,880.1C979.4,881.9 981.4,883.7 983.4,885.4C985.4,887.2 987.4,889.0 989.3,890.8C991.3,892.6 993.3,894.4 995.2,896.2C997.2,898.1 999.1,899.9 1001.0,901.7C1003.0,903.5 1004.9,905.4 1006.9,907.2C1008.8,909.0 1010.7,910.9 1012.7,912.7C1014.6,914.5 1016.6,916.3 1018.5,918.2C1020.5,920.0 1022.4,921.8 1024.4,923.6C1026.3,925.4 1028.3,927.3 1030.2,929.1C1032.1,930.9 1034.1,932.8 1036.0,934.6C1037.9,936.4 1039.8,938.3 1041.8,940.2C1043.7,942.0 1045.6,943.9 1047.5,945.7C1049.4,947.6 1051.3,949.5 1053.2,951.3C1055.1,953.2 1057.0,955.1 1058.9,957.0C1060.7,958.9 1062.5,960.8 1064.4,962.8C1066.2,964.7 1068.0,966.7 1069.7,968.7C1071.5,970.7 1073.2,972.7 1075.0,974.7C1076.8,976.7 1078.5,978.7 1080.3,980.8C1082.0,982.8 1083.8,984.8 1085.5,986.8C1087.3,988.8 1089.1,990.8 1090.8,992.8C1092.6,994.8 1094.3,996.8 1096.0,998.9C1097.7,1000.9 1099.3,1003.0 1100.9,1005.1C1102.5,1007.3 1104.0,1009.4 1105.5,1011.7C1106.9,1013.9 1108.3,1016.1 1109.7,1018.4C1111.1,1020.7 1112.5,1023.0 1113.8,1025.3C1115.2,1027.5 1116.6,1029.8 1118.0,1032.1C1119.3,1034.4 1120.7,1036.7 1122.1,1039.0C1123.5,1041.2 1124.9,1043.5 1126.3,1045.8C1127.7,1048.0 1129.1,1050.3 1130.5,1052.6C1132.0,1054.8 1133.4,1057.1 1134.8,1059.4C1136.2,1061.6 1137.6,1063.9 1138.9,1066.2C1140.3,1068.5 1141.6,1070.8 1142.9,1073.1C1144.3,1075.4 1145.6,1077.7 1146.9,1080.1C1148.2,1082.5 1149.5,1084.8 1150.9,1087.3C1152.2,1089.8 1153.6,1092.3 1155.1,1094.9C1156.5,1097.6 1158.8,1101.7 1159.5,1103.0"/>
</g>
<path d="M1189,435.4L1088.3,703.6" stroke="#000" stroke-width="4.6" fill="none"/>
<path d="M1072.1,746.4L1075.9,696.9L1103,707.6Z" fill="#000"/></svg>
</body></html>
